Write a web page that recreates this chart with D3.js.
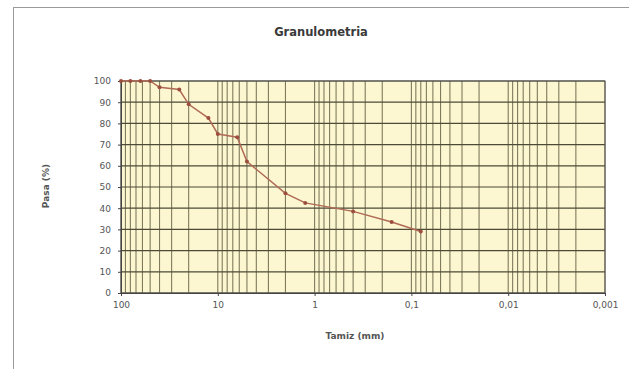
<!DOCTYPE html>
<html>
<head>
<meta charset="utf-8">
<script src="https://cdn.jsdelivr.net/npm/d3@7"></script>
<style>
  html, body { margin: 0; padding: 0; background: #fff; }
  svg { display: block; }
</style>
</head>
<body>
<svg id="chart" width="629" height="369"></svg>
<script>
// Sieve sizes (mm) and percentage passing
const sieveSizes = [100, 80, 63, 50, 40, 25, 20, 12.5, 10, 6.3, 5, 2, 1.25, 0.4, 0.16, 0.08];
const passing    = [100, 100, 100, 100, 97, 96, 89, 82.5, 75, 73.5, 62, 47, 42.5, 38.5, 33.5, 29];

const xTicks = [100, 10, 1, 0.1, 0.01, 0.001];
const xTickLabels = ["100", "10", "1", "0,1", "0,01", "0,001"];
const yTicks = [0, 10, 20, 30, 40, 50, 60, 70, 80, 90, 100];

const titleText = "Granulometria";
const xTitle = "Tamiz (mm)";
const yTitle = "Pasa (%)";

const FONT = "'DejaVu Sans', Verdana, sans-serif";

const svg = d3.select("#chart");
const plot = { left: 121, right: 605, top: 81, bottom: 293 };

// outer frame
svg.append("rect")
  .attr("x", 13.5).attr("y", 7.5)
  .attr("width", 620).attr("height", 370)
  .attr("fill", "#fff").attr("stroke", "#9a9a9a").attr("stroke-width", 1);

const x = d3.scaleLog().domain([100, 0.001]).range([plot.left, plot.right]);
const y = d3.scaleLinear().domain([0, 100]).range([plot.bottom, plot.top]);

// plot background
svg.append("rect")
  .attr("x", plot.left).attr("y", plot.top)
  .attr("width", plot.right - plot.left).attr("height", plot.bottom - plot.top)
  .attr("fill", "#fcf7d0");

// vertical grid: every 1..9 step inside each decade
const gridX = [];
for (let e = -3; e < 2; e++) {
  for (let m = 1; m <= 9; m++) gridX.push(m * Math.pow(10, e));
}
gridX.push(100);

const grid = svg.append("g");
grid.selectAll("line.vx")
  .data(gridX)
  .join("line")
  .attr("class", "vx")
  .attr("x1", d => x(d)).attr("x2", d => x(d))
  .attr("y1", plot.top).attr("y2", plot.bottom)
  .attr("stroke", "#6a664a")
  .attr("stroke-width", 1.1)
  .attr("opacity", 0.85);

grid.selectAll("line.hy")
  .data(yTicks)
  .join("line")
  .attr("class", "hy")
  .attr("x1", plot.left).attr("x2", plot.right)
  .attr("y1", d => y(d)).attr("y2", d => y(d))
  .attr("stroke", "#4d4a38")
  .attr("stroke-width", 1.2);

// plot border
svg.append("rect")
  .attr("x", plot.left).attr("y", plot.top)
  .attr("width", plot.right - plot.left).attr("height", plot.bottom - plot.top)
  .attr("fill", "none").attr("stroke", "#555").attr("stroke-width", 1);

// axes
const xAxis = d3.axisBottom(x)
  .tickValues(xTicks)
  .tickFormat((d, i) => xTickLabels[i])
  .tickSize(3);
const gx = svg.append("g")
  .attr("transform", `translate(0,${plot.bottom})`)
  .call(xAxis);
gx.select(".domain").attr("stroke", "#444");
gx.selectAll(".tick line").attr("stroke", "#444");
gx.selectAll("text")
  .attr("font-family", FONT)
  .attr("font-size", 9)
  .attr("fill", "#555")
  .attr("dy", "0.95em");

const yAxis = d3.axisLeft(y).tickValues(yTicks).tickSize(3);
const gy = svg.append("g")
  .attr("transform", `translate(${plot.left},0)`)
  .call(yAxis);
gy.select(".domain").attr("stroke", "#444");
gy.selectAll(".tick line").attr("stroke", "#444");
gy.selectAll("text")
  .attr("font-family", FONT)
  .attr("font-size", 9)
  .attr("fill", "#555")
  .attr("x", -10);

// titles
svg.append("text")
  .attr("x", 321).attr("y", 36)
  .attr("text-anchor", "middle")
  .attr("font-family", FONT)
  .attr("font-weight", "bold")
  .attr("font-size", 11.5)
  .attr("fill", "#3a3a3a")
  .text(titleText);

svg.append("text")
  .attr("x", 355).attr("y", 339)
  .attr("text-anchor", "middle")
  .attr("font-family", FONT)
  .attr("font-weight", "bold")
  .attr("font-size", 9)
  .attr("fill", "#555")
  .text(xTitle);

svg.append("text")
  .attr("transform", "translate(49,186) rotate(-90)")
  .attr("text-anchor", "middle")
  .attr("font-family", FONT)
  .attr("font-weight", "bold")
  .attr("font-size", 9)
  .attr("fill", "#555")
  .text(yTitle);

// grading curve
const pts = sieveSizes.map((s, i) => [s, passing[i]]);
svg.append("path")
  .datum(pts)
  .attr("fill", "none")
  .attr("stroke", "#b06a55")
  .attr("stroke-width", 1.5)
  .attr("d", d3.line().x(d => x(d[0])).y(d => y(d[1])));

svg.selectAll("circle.pt")
  .data(pts)
  .join("circle")
  .attr("class", "pt")
  .attr("cx", d => x(d[0])).attr("cy", d => y(d[1]))
  .attr("r", 2)
  .attr("fill", "#9c4e3e");
</script>
</body>
</html>
